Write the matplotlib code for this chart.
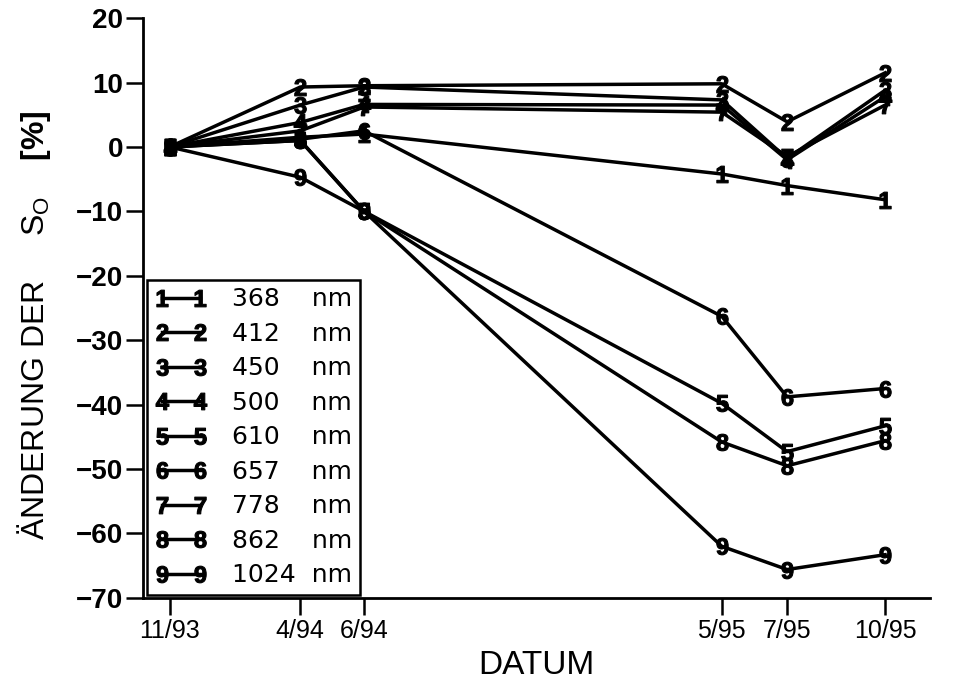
import matplotlib
matplotlib.use("Agg")
import matplotlib.pyplot as plt

plt.rcParams["mathtext.fontset"] = "custom"
plt.rcParams["mathtext.rm"] = "Liberation Sans"
plt.rcParams["mathtext.bf"] = "Liberation Sans:bold"

LAB = "Liberation Sans"

date_labels = ["11/93", "4/94", "6/94", "5/95", "7/95", "10/95"]
date_pos = [0, 4.2, 6.25, 17.75, 19.85, 23]

wavelengths = ["368", "412", "450", "500", "610", "657", "778", "862", "1024"]
s368 = [0, 1.5, 2.0, -4.2, -6.0, -8.2]
s412 = [0, 9.3, 9.5, 9.8, 3.9, 11.5]
s450 = [0, 6.5, 9.3, 7.3, -1.8, 8.8]
s500 = [0, 3.8, 6.6, 6.5, -2.0, 7.8]
s610 = [0, 1.0, -10.0, -39.8, -47.3, -43.3]
s657 = [0, 1.2, 2.5, -26.3, -38.8, -37.5]
s778 = [0, 2.5, 6.2, 5.4, -1.5, 6.5]
s862 = [0, 1.0, -10.0, -45.8, -49.5, -45.6]
s1024 = [0, -4.7, -10.0, -62.0, -65.6, -63.3]
series = [s368, s412, s450, s500, s610, s657, s778, s862, s1024]

yticks = [20, 10, 0, -10, -20, -30, -40, -50, -60, -70]

fig = plt.figure(figsize=(9.57, 6.96), dpi=100)
ax = fig.add_axes([0.149, 0.141, 0.823, 0.833])

for i, (wl, vals) in enumerate(zip(wavelengths, series)):
    mk = r"$\mathbf{%d}$" % (i + 1)
    pad = "    " if len(wl) == 3 else "  "
    ax.plot(date_pos, vals, color="black", lw=2.5, marker=mk, markersize=12,
            markeredgewidth=0.8, label=f"{wl}{pad}nm")

ax.set_xlim(-0.87, 24.45)
ax.set_ylim(-70, 20)
ax.set_xticks(date_pos)
ax.set_xticklabels(date_labels, fontsize=18, family=LAB)
ax.set_yticks(yticks)
ax.set_yticklabels([str(v).replace("-", "\u2212") for v in yticks],
                   fontsize=20, fontweight="bold", family=LAB)

for s in ["top", "right"]:
    ax.spines[s].set_visible(False)
for s in ["left", "bottom"]:
    ax.spines[s].set_linewidth(2)
ax.tick_params(axis="both", direction="out", length=12, width=1.8)
ax.tick_params(axis="x", pad=3)
ax.tick_params(axis="y", pad=2)

ax.set_xlabel("DATUM", fontsize=24, family=LAB, labelpad=5)
ax.set_ylabel(r"ÄNDERUNG DER     S$_\mathrm{O}$    $\mathbf{[\%]}$", fontsize=23,
              family=LAB)
ax.yaxis.set_label_coords(-0.114, 0.47)

leg = ax.legend(loc="lower left", bbox_to_anchor=(0.006, 0.005), borderaxespad=0,
                fontsize=18, numpoints=2, handlelength=2.1, handletextpad=1.0,
                labelspacing=0.42, frameon=True, fancybox=False,
                borderpad=0.3)
leg.get_frame().set_edgecolor("black")
leg.get_frame().set_linewidth(1.8)
leg.get_frame().set_alpha(1)

fig.savefig("out.png", dpi=100)
